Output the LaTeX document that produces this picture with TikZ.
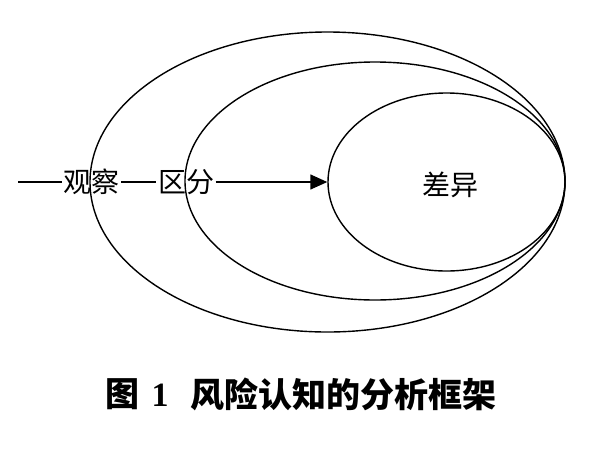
\documentclass[tikz,border=0pt]{standalone}
\usepackage{fontspec}
\setmainfont{Liberation Serif}
\newfontfamily\cjk{Noto Sans CJK SC}
\usetikzlibrary{shapes.geometric,arrows.meta}
\begin{document}
\begin{tikzpicture}[x=1pt,y=-1pt,
  ring/.style={draw, ellipse, line width=1.4pt, inner sep=0pt},
  lbl/.style={font=\cjk\fontsize{28}{28}\selectfont, inner sep=1.5pt},
  capt/.style={font=\cjk\bfseries\fontsize{34}{34}\selectfont, inner sep=0pt},
  conn/.style={line width=1.4pt}]
\useasboundingbox (0,0) rectangle (600,459);
\node[ring, minimum width=475pt, minimum height=300pt] (outer) at (327.5,182) {};
\node[ring, minimum width=380pt, minimum height=238pt] (middle) at (375,181) {};
\node[ring, minimum width=237pt, minimum height=178pt] (inner) at (446.5,182) {};
\node[lbl] (diff) at (450,185) {差异};
\coordinate (start) at (18,182);
\node[lbl] (obs) at (91.5,182) {观察};
\node[lbl] (dist) at (186,182) {区分};
\draw[conn] (start) -- (obs.west);
\draw[conn] (obs.east) -- (dist.west);
\draw[conn, -{Triangle[length=17pt,width=15pt]}] (dist.east) -- (inner.west);
\node[capt] (cap1) at (122,394) {图};
\node[font=\bfseries\fontsize{34}{34}\selectfont, inner sep=0pt] (cap2) at (160,395) {1};
\node[capt] (cap3) at (343.5,394) {风险认知的分析框架};
\end{tikzpicture}
\end{document}
